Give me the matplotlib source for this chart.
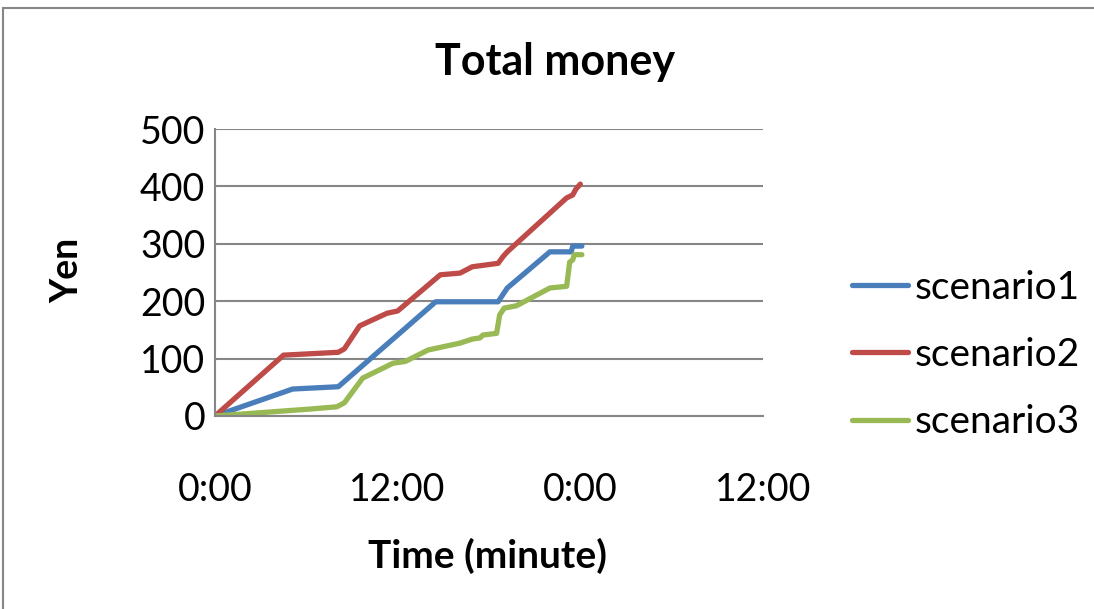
import matplotlib.pyplot as plt
from matplotlib.patches import Rectangle

# elapsed time in hours, money in yen
hours_1 = [0, 5.1, 8.1, 14.5, 18.6, 18.9, 19.2, 22.0, 23.4, 23.5, 24.1]
yen_1 = [0, 47, 51, 199, 199, 211, 223, 286, 286, 296, 296]

hours_2 = [0, 4.5, 8.1, 8.5, 9.5, 11.3, 12.0, 14.8, 16.1, 16.9, 18.6, 18.9, 19.2,
           23.1, 23.5, 23.7, 24.0]
yen_2 = [0, 106, 111, 117, 157, 179, 183, 246, 249, 260, 266, 277, 286,
         380, 385, 395, 404]

hours_3 = [0, 6.2, 8.0, 8.5, 9.7, 11.7, 12.5, 14.0, 16.1, 16.9, 17.4, 17.6, 18.5,
           18.7, 19.0, 19.8, 22.0, 23.1, 23.3, 23.5, 23.6, 24.1]
yen_3 = [0, 12, 16, 23, 66, 92, 95, 115, 127, 134, 136, 141, 144,
         176, 188, 192, 223, 226, 268, 272, 281, 281]

tick_hours = [0, 12, 24, 36]
tick_labels = ['0:00', '12:00', '0:00', '12:00']

plt.rcParams['font.family'] = ['Lato', 'DejaVu Sans']

W, H = 1094, 609
fig = plt.figure(figsize=(W / 100, H / 100), dpi=100)
# chart area border (runs off the right and bottom edges)
fig.patches.append(Rectangle((3 / W, -0.1), 1.2, 1.1 - 8 / H, transform=fig.transFigure,
                             fill=False, edgecolor='#868686', linewidth=1.5))
ax = fig.add_axes([215 / W, 1 - 416 / H, 548 / W, 287 / H])

ax.plot(hours_1, yen_1, color='#4A7EBB', lw=3.8, label='scenario1', solid_capstyle='round')
ax.plot(hours_2, yen_2, color='#BE4B48', lw=3.8, label='scenario2', solid_capstyle='round')
ax.plot(hours_3, yen_3, color='#98B954', lw=3.8, label='scenario3', solid_capstyle='round')

ax.set_xlim(0, 36)
ax.set_ylim(0, 500)
ax.set_yticks(range(0, 501, 100))
ax.set_xticks(tick_hours)
ax.set_xticklabels(tick_labels)
ax.grid(axis='y', color='#868686', lw=1.5)
ax.set_axisbelow(True)
for side in ['top', 'right']:
    ax.spines[side].set_visible(False)
for side in ['left', 'bottom']:
    ax.spines[side].set_color('#868686')
    ax.spines[side].set_linewidth(1.5)
ax.tick_params(length=0, labelsize=27)
ax.tick_params(axis='y', pad=7)
ax.tick_params(axis='x', pad=40)

fig.text(555 / W, 1 - 62 / H, 'Total money', fontsize=31, fontweight='bold',
         ha='center', va='center')
fig.text(488 / W, 1 - 556 / H, 'Time (minute)', fontsize=28, fontweight='bold',
         ha='center', va='center')
fig.text(67 / W, 1 - 270 / H, 'Yen', fontsize=27, fontweight='bold',
         ha='center', va='center', rotation=90)

ax.legend(loc='center left', bbox_to_anchor=(852 / W, 1 - 355 / H),
          bbox_transform=fig.transFigure, frameon=False, fontsize=28,
          handlelength=1.45, handletextpad=0.15, labelspacing=0.8,
          borderpad=0, borderaxespad=0)

fig.savefig('out.png', dpi=100)
